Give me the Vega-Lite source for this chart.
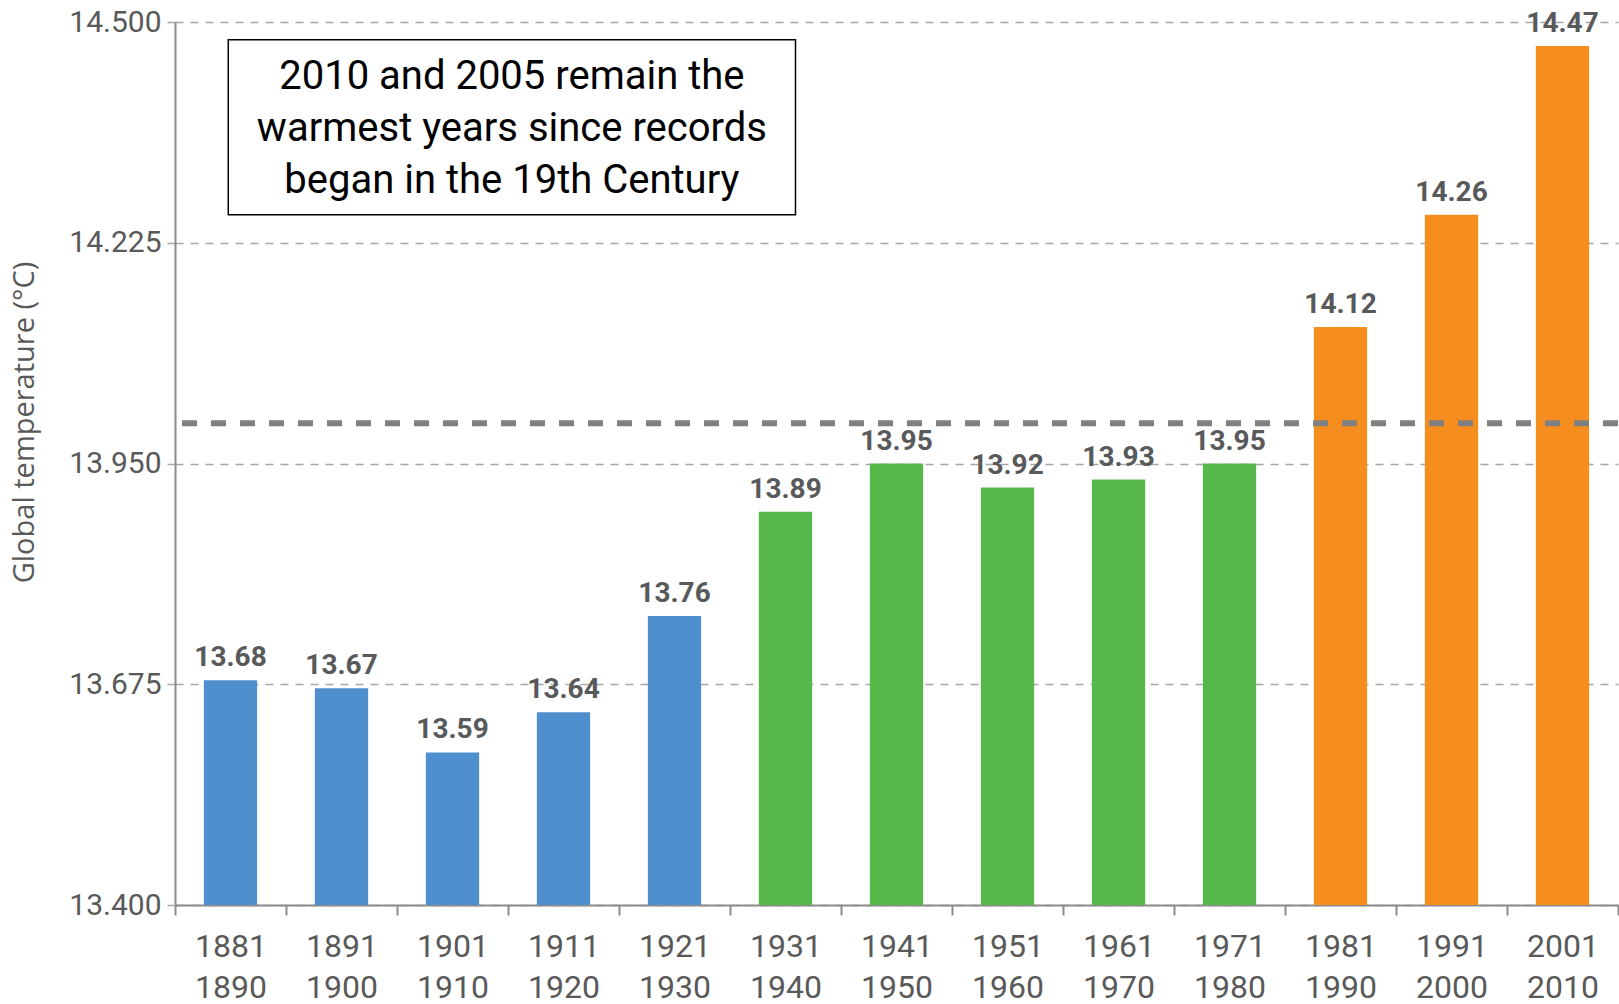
{
  "$schema": "https://vega.github.io/schema/vega-lite/v6.json",
  "width": 1443,
  "height": 883,
  "autosize": {"type": "none"},
  "padding": {"left": 175, "top": 22, "right": 1, "bottom": 99},
  "config": {"view": {"stroke": null}, "font": "Roboto"},
  "layer": [
    {
      "data": {
        "values": [
          {"period": "1881-1890", "temp": 13.68, "era": "early"},
          {"period": "1891-1900", "temp": 13.67, "era": "early"},
          {"period": "1901-1910", "temp": 13.59, "era": "early"},
          {"period": "1911-1920", "temp": 13.64, "era": "early"},
          {"period": "1921-1930", "temp": 13.76, "era": "early"},
          {"period": "1931-1940", "temp": 13.89, "era": "mid"},
          {"period": "1941-1950", "temp": 13.95, "era": "mid"},
          {"period": "1951-1960", "temp": 13.92, "era": "mid"},
          {"period": "1961-1970", "temp": 13.93, "era": "mid"},
          {"period": "1971-1980", "temp": 13.95, "era": "mid"},
          {"period": "1981-1990", "temp": 14.12, "era": "late"},
          {"period": "1991-2000", "temp": 14.26, "era": "late"},
          {"period": "2001-2010", "temp": 14.47, "era": "late"}
        ]
      },
      "encoding": {
        "x": {
          "field": "period", "type": "nominal", "sort": null,
          "scale": {"paddingInner": 0, "paddingOuter": 0},
          "axis": {
            "title": null, "labelAngle": 0, "labelExpr": "split(datum.label, '-')",
            "labelFontSize": 32, "labelLineHeight": 41, "labelColor": "#595959",
            "labelBaseline": "top", "labelPadding": 16,
            "tickSize": 10, "tickWidth": 2, "tickColor": "#8c8c8c", "tickBand": "extent",
            "domainColor": "#8c8c8c", "domainWidth": 2, "grid": false
          }
        },
        "y": {
          "field": "temp", "type": "quantitative",
          "scale": {"domain": [13.4, 14.5], "zero": false, "nice": false},
          "axis": {
            "values": [13.4, 13.675, 13.95, 14.225, 14.5], "format": ".3f",
            "labelFontSize": 30, "labelColor": "#595959", "labelPadding": 6,
            "tickSize": 8, "tickColor": "#a6a6a6", "tickWidth": 1.5,
            "domainColor": "#8c8c8c", "domainWidth": 2,
            "grid": true, "gridColor": "#a6a6a6", "gridDash": [8, 7], "gridWidth": 1.5,
            "title": "Global temperature (°C)", "titleFontSize": 29, "titleFontWeight": "normal",
            "titleColor": "#595959", "titleFont": "Open Sans", "titlePadding": 29, "titleY": 400
          }
        }
      },
      "layer": [
        {
          "mark": {"type": "bar", "clip": true, "width": {"band": 0.48}},
          "encoding": {
            "y2": {"datum": 13.4},
            "color": {
              "field": "era", "type": "nominal",
              "scale": {"domain": ["early", "mid", "late"], "range": ["#508fcd", "#56b84b", "#f68d1f"]},
              "legend": null
            }
          }
        },
        {
          "mark": {"type": "text", "baseline": "bottom", "dy": -8, "fontWeight": "bold", "fontSize": 28, "color": "#58595b"},
          "encoding": {"text": {"field": "temp", "type": "quantitative", "format": ".2f"}}
        }
      ]
    },
    {
      "data": {"values": [{}]},
      "mark": {"type": "rule", "strokeDash": [15, 14], "strokeWidth": 6, "color": "#808080"},
      "encoding": {"y": {"datum": 14.0, "type": "quantitative"}}
    },
    {
      "data": {"values": [{}]},
      "mark": {"type": "rect", "fill": "white", "stroke": "black", "strokeWidth": 1.5},
      "encoding": {
        "x": {"datum": 0.48, "type": "quantitative", "scale": {"domain": [0, 13], "nice": false, "zero": false}, "axis": null},
        "x2": {"datum": 5.59},
        "y": {"datum": 14.478, "type": "quantitative"},
        "y2": {"datum": 14.26}
      }
    },
    {
      "data": {"values": [{}]},
      "mark": {"type": "text", "fontSize": 40, "lineHeight": 52, "align": "center", "baseline": "middle", "color": "#000000"},
      "encoding": {
        "x": {"datum": 3.035, "type": "quantitative", "scale": {"domain": [0, 13], "nice": false, "zero": false}, "axis": null},
        "y": {"datum": 14.431, "type": "quantitative"},
        "text": {"value": ["2010 and 2005 remain the", "warmest years since records", "began in the 19th Century"]}
      }
    }
  ],
  "resolve": {"scale": {"x": "independent"}}
}
